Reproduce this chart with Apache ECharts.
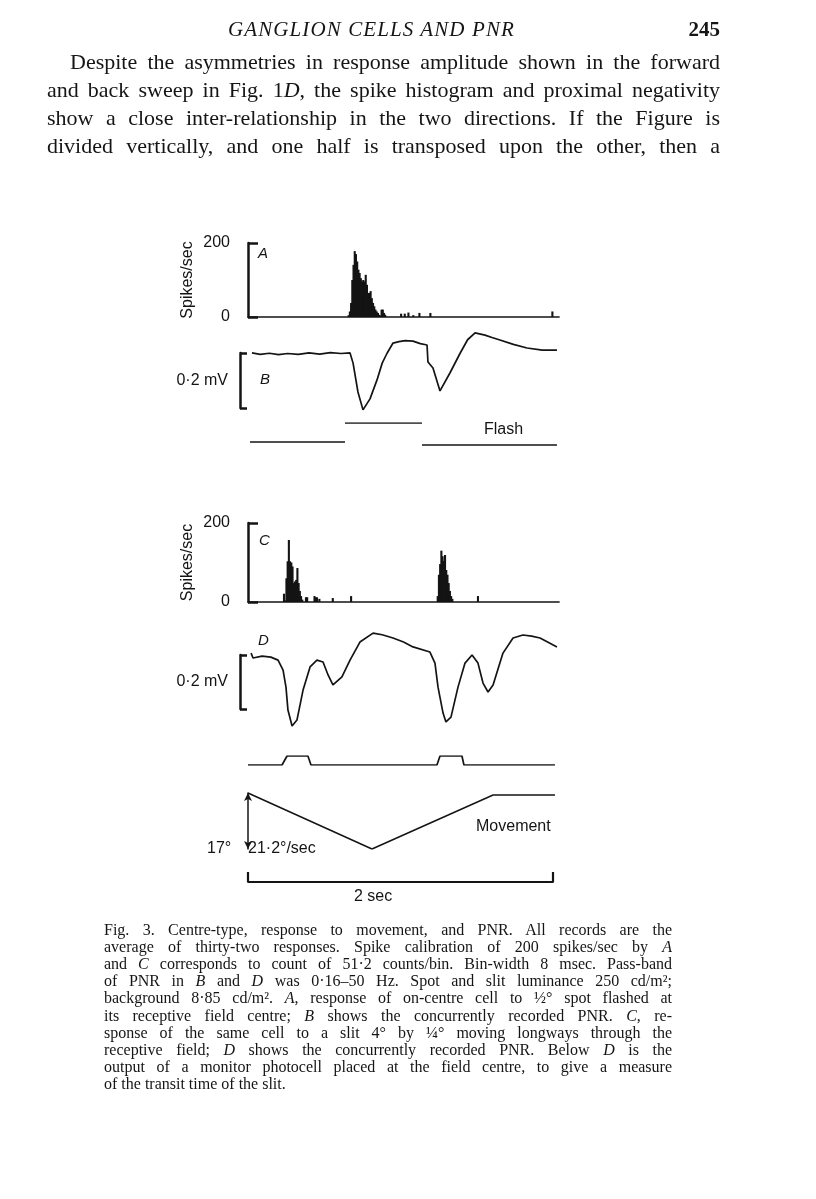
<!DOCTYPE html>
<html>
<head>
    <meta charset="utf-8">
    <title>Ganglion cells and PNR - Fig. 3</title>
    <script src="https://cdn.jsdelivr.net/npm/echarts@6.0.0/dist/echarts.min.js"></script>
    <style>
        body { margin: 0; padding: 0; background: #fff; }
        #page { position: relative; width: 816px; height: 1199px; overflow: hidden; }
        #main { position: absolute; left: 0; top: 0; width: 816px; height: 1199px; }
        .ln { position: absolute; font-family: "Liberation Serif", "DejaVu Serif", serif; color: #151515; white-space: nowrap; }
        .just { text-align: justify; text-align-last: justify; white-space: normal; }
        .body { font-size: 22px; line-height: 28px; height: 28px; }
        .cap { font-size: 16px; line-height: 17px; height: 17px; }
    </style>
</head>
<body>
<div id="page">
    <div id="main"></div>
    <!-- page head + text -->
    <div class="ln" style="left:228px; top:17px; font-size:21px; font-style:italic; letter-spacing:1.1px;">GANGLION CELLS AND PNR</div>
    <div class="ln" style="left:684px; top:17px; width:36px; text-align:right; font-size:21px; font-weight:bold;">245</div>
    <div id="para"></div>
    <div id="caption"></div>
</div>

<script type="text/javascript">
    // ---------- text of the page ----------
    const paraLines = [
        'Despite the asymmetries in response amplitude shown in the forward',
        'and back sweep in Fig. 1<i>D</i>, the spike histogram and proximal negativity',
        'show a close inter-relationship in the two directions. If the Figure is',
        'divided vertically, and one half is transposed upon the other, then a'
    ];
    const captionLines = [
        'Fig. 3. Centre-type, response to movement, and PNR. All records are the',
        'average of thirty-two responses. Spike calibration of 200 spikes/sec by <i>A</i>',
        'and <i>C</i> corresponds to count of 51·2 counts/bin. Bin-width 8 msec. Pass-band',
        'of PNR in <i>B</i> and <i>D</i> was 0·16–50 Hz. Spot and slit luminance 250 cd/m²;',
        'background 8·85 cd/m². <i>A</i>, response of on-centre cell to ½° spot flashed at',
        'its receptive field centre; <i>B</i> shows the concurrently recorded PNR. <i>C</i>, re-',
        'sponse of the same cell to a slit 4° by ¼° moving longways through the',
        'receptive field; <i>D</i> shows the concurrently recorded PNR. Below <i>D</i> is the',
        'output of a monitor photocell placed at the field centre, to give a measure',
        'of the transit time of the slit.'
    ];

    // ---------- figure data (time in msec) ----------
    // A: spikes/sec per 8 msec bin, flashed spot
    const histA = [
        [660, 5], [668, 15], [676, 38], [684, 100], [692, 141], [700, 178], [708, 170],
        [716, 150], [724, 128], [732, 119], [740, 105], [748, 96], [756, 100], [764, 96],
        [772, 114], [780, 87], [788, 65], [796, 65], [804, 70], [812, 51], [820, 38],
        [828, 29], [836, 20], [844, 15], [852, 11], [860, 6], [868, 4], [876, 20],
        [884, 20], [892, 11], [900, 6],
        [1004, 9], [1028, 9], [1052, 12], [1084, 5], [1124, 11], [1196, 11], [1996, 15]
    ];
    // C: spikes/sec per bin, moving slit
    const histC = [
        [236, 21], [244, 4], [252, 60], [260, 103], [268, 157], [276, 103], [284, 100],
        [292, 90], [300, 48], [308, 52], [316, 56], [324, 86], [332, 48], [340, 28],
        [348, 15], [356, 6], [380, 12], [388, 12], [436, 15], [444, 12], [452, 12],
        [468, 8], [556, 10], [676, 15],
        [1244, 15], [1252, 69], [1260, 96], [1268, 130], [1276, 116], [1284, 104],
        [1292, 119], [1300, 81], [1308, 69], [1316, 48], [1324, 28], [1332, 15],
        [1340, 8], [1508, 15]
    ];
    // B: PNR (mV) with flashed spot
    const traceB = [
        [26, 0.002], [80, -0.003], [140, 0.001], [200, -0.004], [260, 0.0], [330, -0.003],
        [400, 0.002], [470, -0.002], [540, 0.003], [610, 0.0], [669, 0.002],
        [689, -0.035], [721, -0.14], [754, -0.205], [800, -0.165], [846, -0.096],
        [880, -0.035], [911, 0.0], [951, 0.038], [990, 0.043], [1030, 0.047],
        [1082, 0.045], [1130, 0.036], [1174, 0.031], [1180, -0.031], [1213, -0.053],
        [1259, -0.136], [1325, -0.07], [1390, 0.0], [1440, 0.05], [1489, 0.075],
        [1554, 0.067], [1600, 0.058], [1652, 0.049], [1740, 0.033], [1830, 0.02],
        [1930, 0.012], [2026, 0.012]
    ];
    // D: PNR (mV) with moving slit
    const traceD = [
        [20, 0.007], [33, -0.011], [92, -0.004], [150, -0.008], [197, -0.019],
        [230, -0.056], [249, -0.119], [262, -0.204], [289, -0.263], [321, -0.241],
        [361, -0.13], [407, -0.044], [452, -0.019], [492, -0.026], [525, -0.074],
        [557, -0.111], [616, -0.081], [669, -0.019], [734, 0.048], [820, 0.081],
        [880, 0.075], [951, 0.063], [1020, 0.048], [1082, 0.03], [1193, 0.011],
        [1226, -0.03], [1246, -0.119], [1279, -0.215], [1298, -0.248], [1331, -0.23],
        [1377, -0.119], [1423, -0.03], [1469, 0.0], [1508, -0.03], [1541, -0.104],
        [1574, -0.137], [1607, -0.111], [1672, 0.007], [1738, 0.063], [1803, 0.074],
        [1860, 0.07], [1915, 0.063], [2026, 0.03]
    ];
    // flash monitor (0 = off, 1 = on)
    const flashOff1 = [[13, 0.05], [636, 0.05]];
    const flashOn = [[636, 1], [1141, 1]];
    const flashOff2 = [[1141, -0.1], [2026, -0.1]];
    // photocell output below D
    const photocell = [
        [0, 0], [223, 0], [256, 1], [393, 1], [413, 0], [1239, 0],
        [1259, 1], [1403, 1], [1416, 0], [2013, 0]
    ];
    // slit position (deg)
    const movement = [[0, 17], [813, 0], [1607, 16.4], [2013, 16.4]];
    // 2 sec time bar
    const timeBar = [[0, 1], [0, 0], [2000, 0], [2000, 1]];

    // ---------- write text lines ----------
    let para = document.getElementById('para');
    paraLines.forEach((t, i) => {
        let d = document.createElement('div');
        d.className = 'ln just body';
        d.style.left = (i === 0 ? 70 : 47) + 'px';
        d.style.width = (i === 0 ? 650 : 673) + 'px';
        d.style.top = (48 + i * 28) + 'px';
        d.innerHTML = t;
        para.appendChild(d);
    });
    let cap = document.getElementById('caption');
    captionLines.forEach((t, i) => {
        let d = document.createElement('div');
        d.className = 'ln cap' + (i < captionLines.length - 1 ? ' just' : '');
        d.style.left = '104px';
        d.style.width = '568px';
        d.style.top = (921 + i * 17.1) + 'px';
        d.innerHTML = t;
        cap.appendChild(d);
    });

    // ---------- figure ----------
    const ink = '#141414';
    const sans = '"Liberation Sans", Arial, sans-serif';
    const X0 = 248;                // t = 0 on the page
    const tMax = 2040;
    const W = tMax * 0.1525;       // 305 px = 2 sec

    function g(top, height, left, width) {
        return { left: left === undefined ? X0 : left, top: top, width: width === undefined ? W : width, height: height };
    }
    function hiddenX(i) {
        return { gridIndex: i, type: 'value', min: 0, max: tMax, show: false };
    }
    function line(i, data, w) {
        return {
            type: 'line', xAxisIndex: i, yAxisIndex: i, data: data, showSymbol: false,
            lineStyle: { width: w || 1.7, color: ink }, silent: true
        };
    }
    function bars(i, data) {
        return {
            type: 'bar', xAxisIndex: i, yAxisIndex: i, data: data, barWidth: 2.1,
            itemStyle: { color: ink }, silent: true
        };
    }
    function spikeAxis(i) {
        return {
            gridIndex: i, type: 'value', min: 0, max: 200, interval: 200, offset: 8,
            axisLine: { show: true, lineStyle: { color: ink, width: 2.5 } },
            axisTick: { show: true, inside: true, length: 10, lineStyle: { color: ink, width: 2.5 } },
            axisLabel: { fontSize: 16, color: ink, margin: 10, fontFamily: sans },
            splitLine: { show: false },
            name: 'Spikes/sec', nameLocation: 'middle', nameGap: 44,
            nameTextStyle: { fontSize: 16, color: ink, fontFamily: sans }
        };
    }
    function mvAxis(i) {
        return {
            gridIndex: i, type: 'value', min: 0, max: 0.2, interval: 0.2,
            axisLine: { show: true, lineStyle: { color: ink, width: 2.5 } },
            axisTick: { show: true, inside: true, length: 7, lineStyle: { color: ink, width: 2.5 } },
            axisLabel: { show: false }, splitLine: { show: false },
            name: '0·2 mV', nameLocation: 'middle', nameRotate: 0, nameGap: 12,
            nameTextStyle: { fontSize: 16, color: ink, fontFamily: sans }
        };
    }
    function plainY(i, min, max) {
        return { gridIndex: i, type: 'value', min: min, max: max, show: false };
    }

    let myChart = echarts.init(document.getElementById('main'), null, { renderer: 'canvas' });
    let option = {
        animation: false,
        grid: [
            g(243, 74),          // 0 A histogram
            g(326, 88),          // 1 B trace
            g(353, 55, 240, 10), // 2 B calibration
            g(423, 24),          // 3 flash
            g(523, 79),          // 4 C histogram
            g(628, 102.6),       // 5 D trace
            g(655, 54, 240, 10), // 6 D calibration
            g(756, 9),           // 7 photocell
            g(793, 56),          // 8 movement
            g(872, 10)           // 9 2 sec bar
        ],
        xAxis: [
            {
                gridIndex: 0, type: 'value', min: 0, max: tMax,
                axisLine: { show: true, lineStyle: { color: ink, width: 1.5 } },
                axisTick: { show: false }, axisLabel: { show: false }, splitLine: { show: false }
            },
            hiddenX(1), hiddenX(2), hiddenX(3),
            {
                gridIndex: 4, type: 'value', min: 0, max: tMax,
                axisLine: { show: true, lineStyle: { color: ink, width: 1.5 } },
                axisTick: { show: false }, axisLabel: { show: false }, splitLine: { show: false }
            },
            hiddenX(5), hiddenX(6), hiddenX(7), hiddenX(8), hiddenX(9)
        ],
        yAxis: [
            spikeAxis(0),
            plainY(1, -0.22, 0.1),
            mvAxis(2),
            plainY(3, -0.2, 1),
            spikeAxis(4),
            plainY(5, -0.28, 0.1),
            mvAxis(6),
            plainY(7, 0, 1),
            {
                gridIndex: 8, type: 'value', min: 0, max: 17, offset: 11,
                axisLine: { show: true, symbol: ['arrow', 'arrow'], symbolSize: [6, 8], lineStyle: { color: ink, width: 1.5 } },
                axisTick: { show: false }, axisLabel: { show: false }, splitLine: { show: false }
            },
            plainY(9, 0, 1)
        ],
        series: [
            bars(0, histA),
            line(1, traceB),
            line(3, flashOff1), line(3, flashOn), line(3, flashOff2),
            bars(4, histC),
            line(5, traceD),
            line(7, photocell),
            line(8, movement, 1.5),
            line(9, timeBar, 2.2)
        ],
        graphic: [
            { type: 'text', left: 258, top: 246, style: { text: 'A', font: 'italic 15px ' + sans, fill: ink } },
            { type: 'text', left: 260, top: 372, style: { text: 'B', font: 'italic 15px ' + sans, fill: ink } },
            { type: 'text', left: 259, top: 533, style: { text: 'C', font: 'italic 15px ' + sans, fill: ink } },
            { type: 'text', left: 258, top: 633, style: { text: 'D', font: 'italic 15px ' + sans, fill: ink } },
            { type: 'text', left: 484, top: 422, style: { text: 'Flash', font: '16px ' + sans, fill: ink } },
            { type: 'text', left: 476, top: 819, style: { text: 'Movement', font: '16px ' + sans, fill: ink } },
            { type: 'text', left: 207, top: 841, style: { text: '17°', font: '16px ' + sans, fill: ink } },
            { type: 'text', left: 248, top: 841, style: { text: '21·2°/sec', font: '16px ' + sans, fill: ink } },
            { type: 'text', left: 354, top: 889, style: { text: '2 sec', font: '16px ' + sans, fill: ink } }
        ]
    };
    myChart.setOption(option);
</script>
</body>
</html>
